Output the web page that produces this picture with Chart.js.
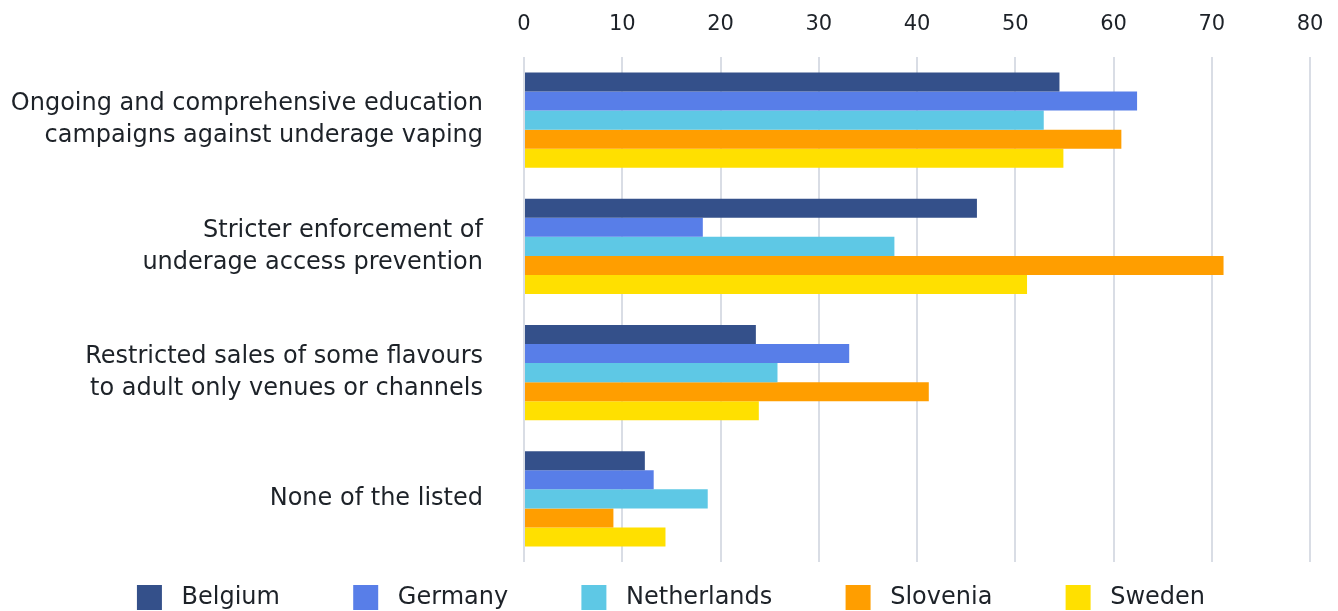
<!DOCTYPE html>
<html>
<head>
<meta charset="utf-8">
<script src="https://cdn.jsdelivr.net/npm/chart.js@4"></script>
<style>
  html, body { margin: 0; padding: 0; background: #fff; }
  #wrap { width: 1338px; height: 611px; }
</style>
</head>
<body>
<div id="wrap"><canvas id="myChart"></canvas></div>
<script>
const categories = [
  ['Ongoing and comprehensive education', 'campaigns against underage vaping'],
  ['Stricter enforcement of', 'underage access prevention'],
  ['Restricted sales of some flavours', 'to adult only venues or channels'],
  'None of the listed'
]
const belgium = [54.5, 46.1, 23.6, 12.3]
const germany = [62.4, 18.2, 33.1, 13.2]
const netherlands = [52.9, 37.7, 25.8, 18.7]
const slovenia = [60.8, 71.2, 41.2, 9.1]
const sweden = [54.9, 51.2, 23.9, 14.4]
const countries = ['Belgium', 'Germany', 'Netherlands', 'Slovenia', 'Sweden']
const colors = ['#34508a', '#587ee8', '#5ec8e5', '#ff9e00', '#ffe000']
const seriesValues = [belgium, germany, netherlands, slovenia, sweden]

const fontFamily = "'DejaVu Sans', sans-serif"
const textColor = '#1d2228'

const data = {
  labels: categories,
  datasets: countries.map((name, i) => ({
    label: name,
    data: seriesValues[i],
    backgroundColor: colors[i],
    borderWidth: 0,
    categoryPercentage: 0.754,
    barPercentage: 1
  }))
}

// push the legend a bit lower / right than chart.js puts it
const legendShift = {
  id: 'legendShift',
  afterLayout(chart) {
    chart.legend.top += 13
    chart.legend.bottom += 13
    chart.legend.left += 16
    chart.legend.right += 16
  }
}

const config = {
  type: 'bar',
  data: data,
  plugins: [legendShift],
  options: {
    indexAxis: 'y',
    responsive: true,
    maintainAspectRatio: false,
    animation: false,
    layout: { padding: { left: 0, right: 28, top: 0, bottom: 4 } },
    scales: {
      x: {
        position: 'top',
        min: 0,
        max: 80,
        afterFit: (scale) => {
          scale.height = 57
          scale.paddingLeft = 0
          scale.paddingRight = 0
        },
        ticks: { stepSize: 10, color: textColor, font: { family: fontFamily, size: 21 }, padding: 20 },
        grid: { color: '#d9dde5', lineWidth: 2, drawTicks: false },
        border: { display: false }
      },
      y: {
        afterFit: (scale) => {
          scale.width = 524
          scale.paddingTop = 0
          scale.paddingBottom = 0
        },
        ticks: { color: textColor, font: { family: fontFamily, size: 24, lineHeight: 1.33 }, padding: 33 },
        grid: { display: false },
        border: { display: false }
      }
    },
    plugins: {
      legend: {
        position: 'bottom',
        maxHeight: 45,
        labels: {
          boxWidth: 25,
          boxHeight: 25,
          padding: 10,
          color: textColor,
          font: { family: fontFamily, size: 24 },
          // wider gaps between legend items, as in the original
          generateLabels: (chart) => {
            const items = Chart.defaults.plugins.legend.labels.generateLabels(chart)
            items.forEach((it, i) => {
              it.text = ' ' + it.text + (i < items.length - 1 ? '  \u2003\u2003' : '')
            })
            return items
          }
        }
      },
      tooltip: { enabled: false }
    }
  }
}

const ctx = document.getElementById('myChart').getContext('2d')
new Chart(ctx, config)
</script>
</body>
</html>
